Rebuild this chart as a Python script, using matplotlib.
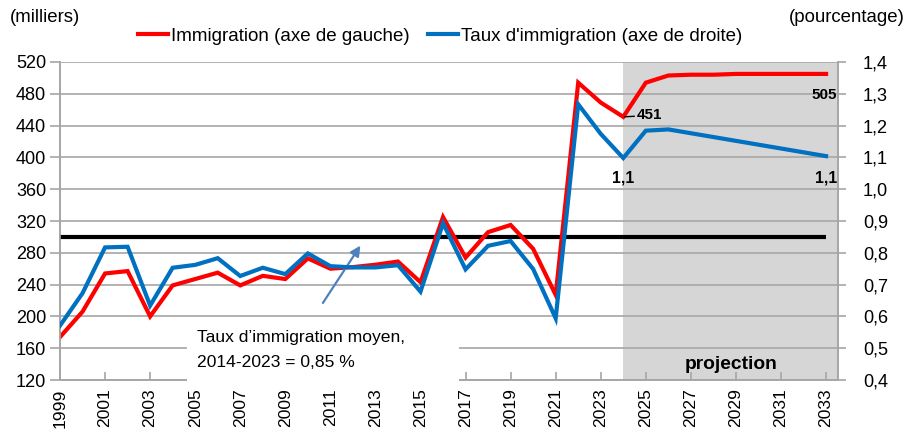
import matplotlib
matplotlib.use("Agg")
import matplotlib.pyplot as plt
from matplotlib import font_manager as fm
from matplotlib.patches import Rectangle
from matplotlib.ticker import FuncFormatter, MultipleLocator

avail = {f.name for f in fm.fontManager.ttflist}
NARROW = 'Liberation Sans Narrow' in avail
FONT = 'Liberation Sans Narrow' if NARROW else 'Liberation Sans'
K = 1.0 if NARROW else 0.84
plt.rcParams['font.family'] = [FONT, 'DejaVu Sans']

years = list(range(1999, 2034))
immigration = [174, 206, 254, 257, 200, 239, 247, 255, 239, 251, 247, 273, 260, 262,
               265, 269, 243, 325, 274, 306, 315, 285, 227, 494, 469, 451, 494, 503,
               504, 504, 505, 505, 505, 505, 505]
taux = [0.571, 0.673, 0.817, 0.819, 0.634, 0.753, 0.762, 0.783, 0.727, 0.753, 0.733,
        0.798, 0.758, 0.754, 0.754, 0.761, 0.678, 0.893, 0.748, 0.822, 0.837, 0.749,
        0.594, 1.267, 1.174, 1.098, 1.184, 1.188, 1.176, 1.164, 1.152, 1.140, 1.128,
        1.116, 1.104]
moyenne_gauche = 300
projection_start = 2024
label_451 = "451"
label_505 = "505"
label_11 = "1,1"

GRID = '#a6a6a6'
RED = '#ff0000'
BLUE = '#0070c0'

fig = plt.figure(figsize=(9.1, 4.4), dpi=100)
ax = fig.add_axes([60/910, 60/440, 778/910, 318/440])
ax2 = ax.twinx()

ax.set_xlim(1999, 2033.53)
ax.set_ylim(120, 520)
ax2.set_ylim(0.4, 1.4)

# projection shading
ax.axvspan(projection_start, 2033.53, color='#d6d6d6', zorder=0, lw=0)

ax.yaxis.set_major_locator(MultipleLocator(40))
ax2.yaxis.set_major_locator(MultipleLocator(0.1))
ax.grid(axis='y', color=GRID, lw=1.2, zorder=1)
ax.set_axisbelow(True)

ax.set_xticks(list(range(1999, 2034, 2)))
ax.tick_params(axis='x', direction='in', length=6, color=GRID, width=1.2,
               labelrotation=90, labelsize=15*K, pad=6)
ax.tick_params(axis='y', direction='out', length=7, color=GRID, width=1.2,
               labelsize=15.5*K, pad=3)
ax2.tick_params(axis='y', direction='out', length=6, color=GRID, width=1.2,
                labelsize=15.5*K, pad=12)
ax2.yaxis.set_major_formatter(FuncFormatter(lambda v, p: f"{v:.1f}".replace('.', ',')))

for a in (ax, ax2):
    a.spines['top'].set_visible(False)
    for s in ('left', 'right', 'bottom'):
        a.spines[s].set_color(GRID)
        a.spines[s].set_linewidth(1.2)

ax.hlines(moyenne_gauche, 1999, 2033, color='black', lw=3, zorder=3)
l1, = ax.plot(years, immigration, color=RED, lw=3, zorder=4,
              label='Immigration (axe de gauche)', solid_joinstyle='miter')
l2, = ax2.plot(years, taux, color=BLUE, lw=3, zorder=4,
               label="Taux d'immigration (axe de droite)", solid_joinstyle='miter')

# data labels
i24 = years.index(2024)
ax.annotate(label_451, xy=(2024, immigration[i24]), xytext=(10, 1),
            textcoords='offset points', ha='left', va='center',
            fontsize=13*K, fontweight='bold', zorder=6,
            arrowprops=dict(arrowstyle='-', color='black', lw=1, shrinkA=0, shrinkB=1))
ax.annotate(label_505, xy=(2033, immigration[-1]), xytext=(8, -15),
            textcoords='offset points', ha='right', va='center',
            fontsize=13*K, fontweight='bold', zorder=6)
ax2.annotate(label_11, xy=(2024, taux[i24]), xytext=(0, -14.5),
             textcoords='offset points', ha='center', va='center',
             fontsize=13.5*K, fontweight='bold', zorder=6)
ax2.annotate(label_11, xy=(2033, taux[-1]), xytext=(0, -16),
             textcoords='offset points', ha='center', va='center',
             fontsize=13.5*K, fontweight='bold', zorder=6)

ax.text(2028.8, 139, 'projection', ha='center', va='center',
        fontsize=16.5*K, fontweight='bold', zorder=6)

# note box
box = Rectangle((0.163, -0.02), 0.35, 0.21, transform=ax.transAxes,
                facecolor='white', edgecolor='none', clip_on=False, zorder=8)
ax2.add_patch(box)
ax2.text(0.176, 0.135, 'Taux d’immigration moyen,', transform=ax.transAxes,
         fontsize=15*K, ha='left', va='center', zorder=9)
ax2.text(0.176, 0.056, '2014-2023 = 0,85 %', transform=ax.transAxes,
         fontsize=15*K, ha='left', va='center', zorder=9)
ax.annotate('', xy=(2012.4, 292), xytext=(2010.6, 214),
            arrowprops=dict(arrowstyle='-|>,head_length=0.6,head_width=0.3',
                            color='#4f81bd', lw=1.6), zorder=7)

fig.text(10/910, 1-18/440, '(milliers)', fontsize=16*K, ha='left', va='center')
fig.text(905/910, 1-18/440, '(pourcentage)', fontsize=16*K, ha='right', va='center')

fig.legend(handles=[l1, l2], loc='center', bbox_to_anchor=(440/910, 1-36/440), ncol=2,
           frameon=False, fontsize=16.5*0.82, handlelength=1.6, handletextpad=0.15,
           columnspacing=1.0, borderpad=0)

fig.savefig('out.png', dpi=100)
